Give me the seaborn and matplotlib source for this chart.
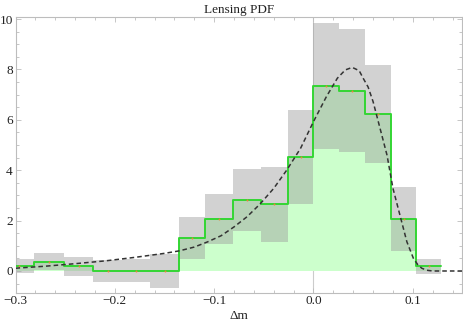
import numpy as np
import pandas as pd
import matplotlib
matplotlib.use("Agg")
import matplotlib.pyplot as plt
import seaborn as sns

# bin edges in delta-m (first bin is cut by the axis)
bin_edges = [-0.312, -0.2814, -0.2513, -0.2217, -0.1926, -0.1641, -0.1357, -0.1088,
             -0.0810, -0.0533, -0.0261, 0.0, 0.0261, 0.0520, 0.0781, 0.1035, 0.1283]
# histogram heights (green)
pdf_values = [0.18, 0.37, 0.21, 0.0, 0.0, 0.0, 1.32, 2.06,
              2.82, 2.65, 4.54, 7.34, 7.15, 6.22, 2.07, 0.19]
# gray uncertainty bands
band_upper = [0.48, 0.70, 0.57, 0.45, 0.46, 0.66, 2.15, 3.06,
              4.05, 4.14, 6.39, 9.86, 9.61, 8.16, 3.34, 0.49]
band_lower = [-0.09, 0.04, -0.21, -0.45, -0.45, -0.68, 0.48, 1.07,
              1.57, 1.14, 2.66, 4.84, 4.71, 4.27, 0.81, -0.11]

# model curve (dashed)
curve_dm = [-0.30, -0.27, -0.24, -0.21, -0.18, -0.15, -0.135, -0.12, -0.107, -0.093,
            -0.080, -0.067, -0.054, -0.040, -0.027, -0.013, 0.000, 0.013, 0.024, 0.032,
            0.039, 0.046, 0.050, 0.055, 0.060, 0.067, 0.074, 0.080, 0.087, 0.094,
            0.1006, 0.105, 0.109, 0.114, 0.120, 0.135, 0.150]
curve_pdf = [0.11, 0.19, 0.29, 0.40, 0.54, 0.70, 0.80, 0.95, 1.15, 1.40,
             1.75, 2.15, 2.65, 3.28, 4.00, 4.87, 5.93, 6.92, 7.65, 7.98,
             8.08, 7.95, 7.65, 7.30, 6.72, 5.66, 4.60, 3.28, 2.22, 1.16,
             0.50, 0.25, 0.11, 0.03, 0.0, 0.0, 0.0]

edges = np.array(bin_edges)
left = edges[:-1]
widths = np.diff(edges)
centers = left + widths / 2
hist_df = pd.DataFrame({"center": centers, "pdf": pdf_values})

sns.set_style("ticks")
plt.rcParams["font.family"] = ["Liberation Serif", "DejaVu Serif"]

fig = plt.figure(figsize=(4.63, 3.27), dpi=100)
ax = fig.add_axes([0.0335, 0.105, 0.9654, 0.843])

ax.axvline(0, color="#cccccc", lw=0.8, zorder=0.5)

# light green filled histogram
sns.histplot(data=hist_df, x="center", weights="pdf", bins=bin_edges, element="step",
             fill=True, color="#ccffcc", alpha=1.0, linewidth=0, ax=ax, zorder=1)

# gray bands, semi transparent on top of the fill
ax.bar(left, np.array(band_upper) - np.array(band_lower), width=widths,
       bottom=band_lower, align="edge", color=(0.615, 0.615, 0.615), alpha=0.45,
       edgecolor="none", zorder=2)

# green step outline
step_df = pd.DataFrame({"x": edges, "y": pdf_values + [pdf_values[-1]]})
sns.lineplot(data=step_df, x="x", y="y", drawstyle="steps-post", estimator=None,
             color="#33d633", lw=1.4, ax=ax, zorder=3)
sns.scatterplot(data=hist_df, x="center", y="pdf", color="#e8833a", s=2,
                linewidth=0, ax=ax, zorder=4)

# dashed model curve
sns.lineplot(x=curve_dm, y=curve_pdf, color="#333333", lw=1.1,
             ax=ax, zorder=5, linestyle=(0, (3.0, 2.0)))

ax.set_xlim(-0.3, 0.15)
ax.set_ylim(-0.86, 10.08)
ax.set_xticks([-0.3, -0.2, -0.1, 0.0, 0.1])
ax.set_xticklabels(["\u22120.3", "\u22120.2", "\u22120.1", "0.0", "0.1"])
ax.set_xticks(np.arange(-0.3, 0.151, 0.02), minor=True)
ax.set_yticks([0, 2, 4, 6, 8, 10])
ax.set_yticks(np.arange(-0.5, 10.01, 0.5), minor=True)

for side in ["top", "right", "left", "bottom"]:
    ax.spines[side].set_visible(True)
    ax.spines[side].set_color("#bdbdbd")
    ax.spines[side].set_linewidth(0.8)
ax.tick_params(which="both", direction="in", top=True, right=True,
               color="#bdbdbd", width=0.6, labelsize=9.5, labelcolor="#222222")
ax.tick_params(which="major", length=3.5, pad=2)
ax.tick_params(which="minor", length=2)

ax.set_xlabel("\u0394m", fontsize=9.5, color="#222222", labelpad=2)
ax.set_ylabel("")
ax.set_title("Lensing PDF", fontsize=9.5, color="#222222", pad=3)

fig.savefig("out.png", dpi=100)
